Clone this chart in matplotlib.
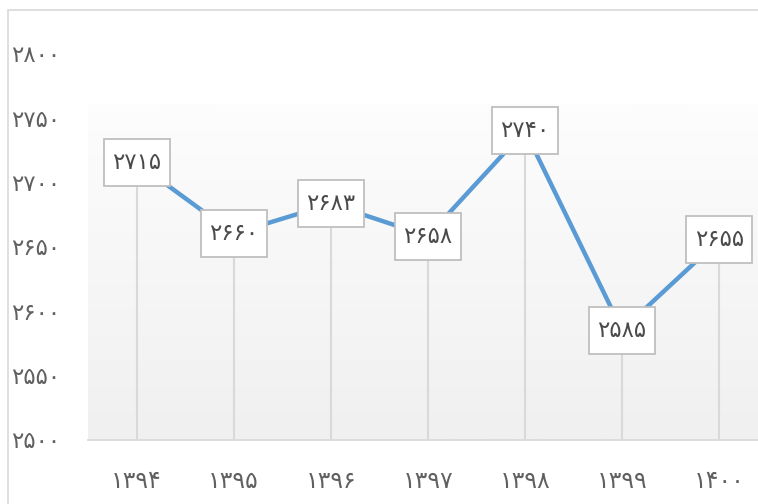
import matplotlib
matplotlib.use("Agg")
import matplotlib.pyplot as plt
import numpy as np
from matplotlib.patches import Rectangle
from matplotlib.colors import LinearSegmentedColormap

years = ["۱۳۹۴", "۱۳۹۵", "۱۳۹۶", "۱۳۹۷", "۱۳۹۸", "۱۳۹۹", "۱۴۰۰"]
values = [2715, 2660, 2683, 2658, 2740, 2585, 2655]
value_labels = ["۲۷۱۵", "۲۶۶۰", "۲۶۸۳", "۲۶۵۸", "۲۷۴۰", "۲۵۸۵", "۲۶۵۵"]
yticks = [2500, 2550, 2600, 2650, 2700, 2750, 2800]
ytick_labels = ["۲۵۰۰", "۲۵۵۰", "۲۶۰۰", "۲۶۵۰", "۲۷۰۰", "۲۷۵۰", "۲۸۰۰"]

W, H = 758, 504
fig = plt.figure(figsize=(W / 100, H / 100), dpi=100)
plt.rcParams['font.family'] = ['DejaVu Sans']

# outer chart border (cropped on right/bottom)
fig.patches.append(Rectangle((8 / W, -0.1), 1.2, (H - 10) / H + 0.1,
                             transform=fig.transFigure, fill=False,
                             edgecolor="#d9d9d9", linewidth=1.2))

ax_left, ax_right = 88, 758
ax_top, ax_bottom = 53.3, 439.5
ax = fig.add_axes([ax_left / W, (H - ax_bottom) / H,
                   (ax_right - ax_left) / W, (ax_bottom - ax_top) / H])
ax.set_facecolor("none")
spacing = 97.1
xmax = -0.5 + (ax_right - ax_left) / spacing
ax.set_xlim(-0.5, xmax)
ax.set_ylim(2500, 2800)

# gradient background
grad = np.linspace(0, 1, 256).reshape(-1, 1)
cmap = LinearSegmentedColormap.from_list("g", ["#f0f0f0", "#fdfdfd"])
ax.imshow(grad, extent=[-0.5, xmax, 2500, 2760], origin="lower", aspect="auto",
          cmap=cmap, zorder=0)

x = np.arange(len(values))
# drop lines
ax.vlines(x, 2500, values, colors="#d9d9d9", linewidth=1.5, zorder=1)
# line
ax.plot(x, values, color="#5b9bd5", linewidth=3.2, zorder=2, solid_capstyle="round")

# data label boxes
bw = 66 / spacing
bh = 47 / 1.287
for xi, v, lab in zip(x, values, value_labels):
    ax.add_patch(Rectangle((xi - bw / 2, v - bh / 2), bw, bh, facecolor="white",
                           edgecolor="#bfbfbf", linewidth=1.3, zorder=3))
    ax.text(xi, v, lab, ha="center", va="center", fontsize=16.5, color="#4a4a4a", zorder=4)

for s in ["top", "right", "left"]:
    ax.spines[s].set_visible(False)
ax.spines["bottom"].set_color("#d9d9d9")
ax.spines["bottom"].set_linewidth(1.3)

ax.set_xticks(x)
ax.set_xticklabels(years, fontsize=17, color="#606060")
ax.set_yticks(yticks)
ax.set_yticklabels(ytick_labels, fontsize=16.5, color="#606060")
ax.tick_params(axis="x", length=0, pad=21)
ax.tick_params(axis="y", length=0, pad=20)

fig.savefig("out.png", dpi=100)
